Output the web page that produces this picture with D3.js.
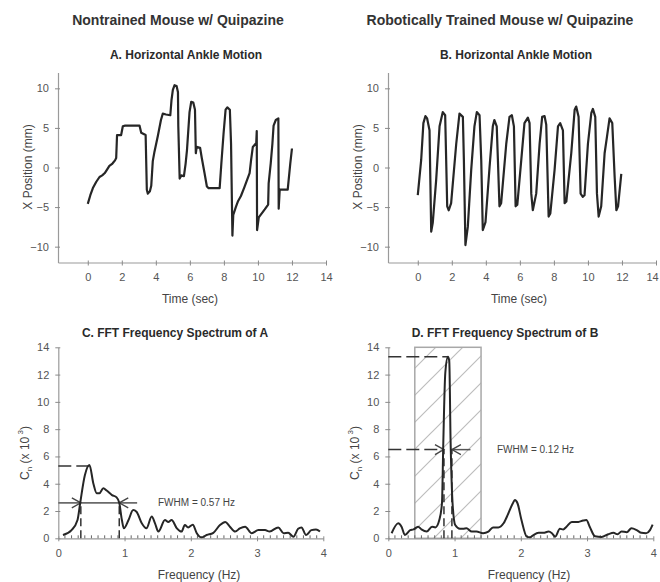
<!DOCTYPE html>
<html>
<head>
<meta charset="utf-8">
<script src="https://cdn.jsdelivr.net/npm/d3@7"></script>
<style>
  body { margin: 0; background: #fff; }
  text { font-family: "Liberation Sans", Arial, sans-serif; }
</style>
</head>
<body>
<svg id="chart" width="660" height="582"></svg>
<script>
// --- data ---
const timeA = [0,0.15,0.3,0.5,0.69,0.85,1.0,1.15,1.27,1.45,1.6,1.67,1.72,1.96,2.06,2.2,3.04,3.14,3.4,3.47,
  3.53,3.65,3.73,3.82,3.92,4.12,4.3,4.41,4.6,4.85,4.92,5.0,5.1,5.22,5.3,5.32,5.4,5.5,5.65,5.75,
  5.83,5.98,6.08,6.2,6.3,6.35,6.4,6.6,6.7,6.86,7.0,7.1,7.75,7.85,7.98,8.1,8.2,8.35,8.42,8.5,
  8.55,8.7,8.82,9.0,9.2,9.51,9.6,9.7,9.9,9.93,9.95,10.05,10.4,10.6,10.63,10.75,10.85,10.92,11.05,11.2,
  11.22,11.28,11.75,11.9,12.0];
const posA = [-4.6,-3.5,-2.6,-1.8,-1.2,-1.0,-0.7,-0.2,0.2,0.5,0.9,1.2,4.1,4.1,5.2,5.3,5.3,4.4,4.1,-2.8,
  -3.3,-3.0,-2.3,0.8,2.0,4.0,6.0,6.8,6.7,6.6,8.5,9.8,10.4,10.3,9.5,5.2,-1.4,-1.0,-1.1,0.5,
  2.2,7.0,8.3,8.2,7.3,1.8,2.6,2.5,1.2,-0.7,-2.4,-2.6,-2.6,0.5,4.3,7.3,7.6,7.3,3.0,-8.6,
  -6.0,-5.0,-4.3,-3.6,-2.5,-0.7,1.0,2.6,3.1,4.6,-7.9,-6.3,-5.3,-4.7,-2.0,0.5,3.0,5.3,6.0,6.2,
  -5.2,-2.8,-2.8,0.5,2.4];

const timeB = [0,0.2,0.33,0.45,0.55,0.69,0.79,0.88,1.08,1.28,1.47,1.61,1.73,1.82,1.96,2.26,2.45,2.65,2.71,2.8,
  2.94,3.14,3.33,3.47,3.63,3.73,3.82,3.98,4.22,4.41,4.5,4.64,4.71,4.8,4.9,5.2,5.39,5.53,5.65,5.75,
  5.85,6.08,6.27,6.47,6.57,6.67,6.76,6.96,7.16,7.31,7.45,7.55,7.69,7.79,8.04,8.24,8.37,8.53,8.63,8.73,
  9.02,9.22,9.31,9.45,9.57,9.7,9.8,10.0,10.2,10.29,10.43,10.53,10.63,10.78,10.98,11.12,11.27,11.43,11.57,11.67,
  11.77,11.96];
const posB = [-3.5,0.95,5.6,6.5,6.2,4.7,-8.1,-7.0,-1.6,5.2,7.0,6.6,-4.9,-5.4,-4.5,3.0,6.8,6.4,0.9,-9.8,
  -7.5,-0.3,5.2,7.0,6.6,0.9,-7.9,-6.9,0.1,5.2,6.0,5.2,0.9,-4.9,-4.5,3.0,6.4,6.6,5.2,-4.9,
  -4.7,0.9,5.6,6.3,5.6,-3.3,-5.4,-3.3,3.0,6.4,6.5,5.4,-6.2,-5.8,-0.3,5.2,5.6,4.7,-4.5,-4.3,
  1.8,7.3,7.7,6.4,-3.3,-3.7,-3.5,3.0,6.9,7.4,6.4,-3.3,-6.2,-4.9,1.8,3.9,6.2,5.6,-1.2,-5.4,
  -4.9,-0.8];

const freqC = [0.07,0.2,0.29,0.33,0.4,0.47,0.53,0.58,0.62,0.68,0.73,0.81,0.88,0.92,0.96,0.99,1.06,1.13,1.18,1.26,
  1.33,1.41,1.46,1.51,1.61,1.66,1.71,1.79,1.86,1.91,1.96,2.03,2.09,2.16,2.24,2.34,2.44,2.52,2.59,2.67,
  2.74,2.82,2.92,3.02,3.12,3.19,3.32,3.4,3.47,3.55,3.62,3.67,3.74,3.82,3.89,3.95];
const ampC = [0.24,0.6,1.34,2.57,4.6,5.37,4.0,3.3,3.3,3.67,3.5,3.17,3.0,2.6,1.34,0.73,1.34,2.07,1.95,1.1,
  0.73,1.59,1.1,0.49,1.34,1.2,1.34,0.73,0.49,0.97,0.8,1.0,0.37,0.07,0.24,0.4,0.97,1.2,0.85,0.49,
  0.73,0.85,0.37,0.6,0.6,0.5,0.8,0.37,0.4,0.12,0.7,0.8,0.24,0.6,0.65,0.5];

const freqD = [0.05,0.15,0.2,0.25,0.33,0.38,0.45,0.5,0.58,0.66,0.71,0.77,0.81,0.83,0.86,0.9,0.92,0.94,0.97,1.01,
  1.08,1.13,1.18,1.26,1.33,1.43,1.51,1.58,1.66,1.74,1.81,1.88,1.91,1.95,2.01,2.09,2.14,2.19,2.27,2.34,
  2.42,2.47,2.52,2.59,2.64,2.69,2.77,2.87,2.94,2.99,3.04,3.12,3.22,3.32,3.4,3.46,3.52,3.6,3.67,3.75,
  3.82,3.89,3.95,3.99];
const ampD = [0.37,1.1,0.85,0.24,0.6,0.65,0.85,0.65,0.49,0.85,0.8,1.34,2.57,6.96,12.1,13.3,13.0,7.2,2.57,0.97,
  0.7,0.7,0.73,0.49,0.49,0.37,0.49,0.8,0.8,1.1,1.8,2.57,2.8,2.57,1.34,0.12,0.07,0.24,0.4,0.4,
  0.49,0.37,0.12,0.7,0.65,0.85,1.2,1.2,1.3,1.34,0.85,0.15,0.1,0.3,0.4,0.3,0.5,0.45,0.73,0.6,
  0.4,0.37,0.6,1.0];

const timeTicks = [0, 2, 4, 6, 8, 10, 12, 14];
const posTicks = [-10, -5, 0, 5, 10];
const freqTicks = [0, 1, 2, 3, 4];
const ampTicks = [0, 2, 4, 6, 8, 10, 12, 14];

// FWHM markers: [left, right] frequency, half height, peak [f, amp]
const fwhmC = [0.34, 0.92], halfC = 2.6, peakC = [0.48, 5.3];
const fwhmD = [0.84, 0.96], halfD = 6.5, peakD = [0.9, 13.3];
const bandD = [0.4, 1.4];

const svg = d3.select("#chart");
svg.append("rect").attr("width", 660).attr("height", 582).attr("fill", "#fff");

const defs = svg.append("defs");
defs.append("pattern")
  .attr("id", "hatch")
  .attr("patternUnits", "userSpaceOnUse")
  .attr("width", 27).attr("height", 27)
  .append("path")
  .attr("d", "M0,27 L27,0 M-3,3 L3,-3 M24,30 L30,24")
  .attr("stroke", "#bdbdbd").attr("stroke-width", 1.2);

function text(x, y, s, size, weight, fill, anchor) {
  return svg.append("text")
    .attr("x", x).attr("y", y)
    .attr("text-anchor", anchor || "middle")
    .attr("font-size", size)
    .attr("font-weight", weight || "normal")
    .attr("fill", fill || "#333")
    .text(s);
}

function drawAxes(x, y, xTicks, yTicks, minor) {
  const y0 = y.range()[0], x0 = x.range()[0];
  const gx = svg.append("g")
    .attr("transform", `translate(0,${y0})`)
    .call(d3.axisBottom(x).tickValues(xTicks).tickFormat(d3.format("d"))
      .tickSizeInner(3).tickSizeOuter(0).tickPadding(8));
  gx.selectAll(".tick line").attr("y1", -2);
  const gy = svg.append("g")
    .attr("transform", `translate(${x0},0)`)
    .call(d3.axisLeft(y).tickValues(yTicks).tickFormat(d3.format("d"))
      .tickSizeInner(3).tickSizeOuter(0).tickPadding(6));
  gy.selectAll(".tick line").attr("x1", 2);
  [gx, gy].forEach(g => {
    g.select(".domain").attr("stroke", "#9a9a9a").attr("stroke-width", 1.2);
    g.selectAll(".tick line").attr("stroke", "#8a8a8a");
    g.selectAll(".tick text").attr("fill", "#555").attr("font-size", 11)
      .attr("font-family", "'Liberation Sans', Arial, sans-serif");
  });
  if (minor) {
    svg.append("g").selectAll("line")
      .data(minor)
      .enter()
      .append("line")
      .attr("x1", d => x(d)).attr("x2", d => x(d))
      .attr("y1", y0).attr("y2", y0 - 3)
      .attr("stroke", "#666").attr("stroke-width", 1);
  }
  return gx;
}

function drawLine(x, y, xs, ys, curve, width) {
  const pts = xs.map((d, i) => [d, ys[i]]);
  svg.append("path")
    .datum(pts)
    .attr("fill", "none")
    .attr("stroke", "#262626")
    .attr("stroke-width", width)
    .attr("stroke-linejoin", "round")
    .attr("d", d3.line().x(d => x(d[0])).y(d => y(d[1])).curve(curve));
}

function arrowHead(px, py, dir) {
  // open V, dir = +1 points right, -1 points left
  svg.append("path")
    .attr("d", `M${px - dir * 9},${py - 5} L${px},${py} L${px - dir * 9},${py + 5}`)
    .attr("fill", "none").attr("stroke", "#444").attr("stroke-width", 1.3);
}

function dashed(x1, y1, x2, y2, dash) {
  svg.append("line")
    .attr("x1", x1).attr("y1", y1).attr("x2", x2).attr("y2", y2)
    .attr("stroke", "#333").attr("stroke-width", 1.5)
    .attr("stroke-dasharray", dash || "13,5");
}

// --- titles ---
text(178, 25, "Nontrained Mouse w/ Quipazine", 14, "bold", "#333");
text(500, 25, "Robotically Trained Mouse w/ Quipazine", 14, "bold", "#333");

// --- A & B: ankle position ---
const timeX = [[58, 326], [388, 656]];
const posY = d3.scaleLinear().domain([-12, 12]).range([262.5, 72.5]);
const tracesAB = [[timeA, posA, "A. Horizontal Ankle Motion", 186, 190],
                  [timeB, posB, "B. Horizontal Ankle Motion", 516, 519]];

tracesAB.forEach((tr, i) => {
  const x = d3.scaleLinear().domain([-1.75, 14]).range(timeX[i]);
  const gx = drawAxes(x, posY, timeTicks, posTicks);
  // last label sits at the page edge in B; nudge it in
  if (i === 1) gx.selectAll(".tick text").filter(d => d === 14).attr("dx", -4);
  drawLine(x, posY, tr[0], tr[1], d3.curveLinear, 2.2);
  text(tr[3], 59, tr[2], 12, "bold", "#2a2a2a");
  text(tr[4], 303, "Time (sec)", 12, "normal", "#444");
  svg.append("text")
    .attr("transform", `translate(${timeX[i][0] - 30},167) rotate(-90)`)
    .attr("text-anchor", "middle").attr("dy", "0.35em")
    .attr("font-size", 12).attr("fill", "#444")
    .text("X Position (mm)");
});

// --- C & D: spectra ---
const freqX = [[58.3, 323.3], [388.3, 653.3]];
const ampY = d3.scaleLinear().domain([0, 14]).range([538.3, 347.3]);
const minorTicks = d3.range(1, 40).map(d => d / 10).filter(d => Math.round(d * 10) % 10 !== 0);

const xC = d3.scaleLinear().domain([0, 4]).range(freqX[0]);
const xD = d3.scaleLinear().domain([0, 4]).range(freqX[1]);

// hatched band behind D
svg.append("rect")
  .attr("x", xD(bandD[0])).attr("y", ampY(14))
  .attr("width", xD(bandD[1]) - xD(bandD[0]))
  .attr("height", ampY(0) - ampY(14))
  .attr("fill", "url(#hatch)")
  .attr("stroke", "#a8a8a8").attr("stroke-width", 1.5);

drawAxes(xC, ampY, freqTicks, ampTicks, minorTicks);
drawAxes(xD, ampY, freqTicks, ampTicks, minorTicks);

// C markers
dashed(xC(0), ampY(peakC[1]), xC(peakC[0]), ampY(peakC[1]));
fwhmC.forEach(f => dashed(xC(f), ampY(0), xC(f), ampY(halfC), "8,4"));
svg.append("line")
  .attr("x1", xC(0)).attr("x2", xC(1.19))
  .attr("y1", ampY(halfC)).attr("y2", ampY(halfC))
  .attr("stroke", "#6a6a6a").attr("stroke-width", 1.8);
arrowHead(xC(fwhmC[0]), ampY(halfC), 1);
arrowHead(xC(fwhmC[1]), ampY(halfC), -1);

// D markers
dashed(xD(0), ampY(peakD[1]), xD(peakD[0]), ampY(peakD[1]));
dashed(xD(0), ampY(halfD), xD(fwhmD[0]), ampY(halfD));
fwhmD.forEach(f => dashed(xD(f), ampY(0), xD(f), ampY(halfD), "8,4"));
svg.append("line")
  .attr("x1", xD(fwhmD[1])).attr("x2", xD(1.24))
  .attr("y1", ampY(halfD)).attr("y2", ampY(halfD))
  .attr("stroke", "#555").attr("stroke-width", 1.5);
arrowHead(xD(fwhmD[0]), ampY(halfD), 1);
arrowHead(xD(fwhmD[1]), ampY(halfD), -1);

drawLine(xC, ampY, freqC, ampC, d3.curveMonotoneX, 2);
drawLine(xD, ampY, freqD, ampD, d3.curveMonotoneX, 2);

text(175, 337, "C. FFT Frequency Spectrum of A", 12, "bold", "#2a2a2a");
text(505, 337, "D. FFT Frequency Spectrum of B", 12, "bold", "#2a2a2a");
text(199, 579, "Frequency (Hz)", 12, "normal", "#444");
text(529, 579, "Frequency (Hz)", 12, "normal", "#444");
text(158, 506, "FWHM = 0.57 Hz", 10, "normal", "#444", "start");
text(497, 453, "FWHM = 0.12 Hz", 10, "normal", "#444", "start");

[25, 355].forEach(cx => {
  const t = svg.append("text")
    .attr("transform", `translate(${cx},453) rotate(-90)`)
    .attr("text-anchor", "middle").attr("dy", "0.35em")
    .attr("font-size", 12).attr("fill", "#444");
  t.append("tspan").text("C");
  t.append("tspan").attr("font-size", 8).attr("dy", 3).text("n");
  t.append("tspan").attr("dy", -3).text(" (x 10");
  t.append("tspan").attr("font-size", 8).attr("dy", -6).text(" 3");
  t.append("tspan").attr("dy", 6).text(")");
});
</script>
</body>
</html>
